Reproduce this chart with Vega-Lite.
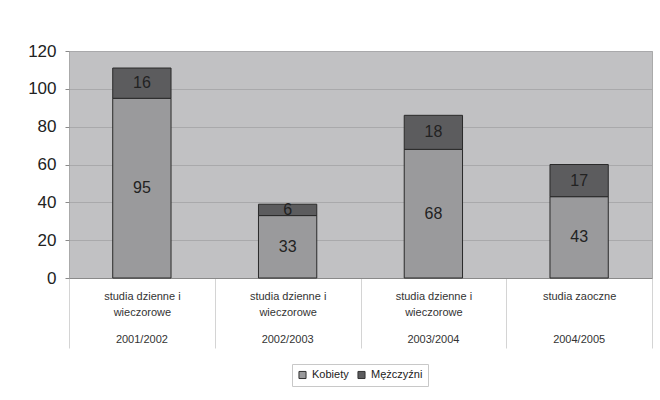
{
  "$schema": "https://vega.github.io/schema/vega-lite/v6.json",
  "width": 583,
  "height": 227,
  "autosize": {"type": "none"},
  "padding": {"left": 69, "top": 51, "right": 8, "bottom": 122},
  "background": "white",
  "config": {
    "font": "Liberation Sans",
    "view": {"fill": "#c1c1c3", "stroke": "#aaaaaa"}
  },
  "data": {
    "values": [
      {"rok": "2001/2002", "kierunek": "studia dzienne i wieczorowe", "plec": "Kobiety", "value": 95},
      {"rok": "2001/2002", "kierunek": "studia dzienne i wieczorowe", "plec": "Mężczyźni", "value": 16},
      {"rok": "2002/2003", "kierunek": "studia dzienne i wieczorowe", "plec": "Kobiety", "value": 33},
      {"rok": "2002/2003", "kierunek": "studia dzienne i wieczorowe", "plec": "Mężczyźni", "value": 6},
      {"rok": "2003/2004", "kierunek": "studia dzienne i wieczorowe", "plec": "Kobiety", "value": 68},
      {"rok": "2003/2004", "kierunek": "studia dzienne i wieczorowe", "plec": "Mężczyźni", "value": 18},
      {"rok": "2004/2005", "kierunek": "studia zaoczne", "plec": "Kobiety", "value": 43},
      {"rok": "2004/2005", "kierunek": "studia zaoczne", "plec": "Mężczyźni", "value": 17}
    ]
  },
  "resolve": {"axis": {"x": "independent"}},
  "layer": [
    {
      "mark": {"type": "bar", "stroke": "#2a2a2a", "strokeWidth": 1, "width": {"band": 0.4}},
      "encoding": {
        "x": {
          "field": "rok",
          "type": "nominal",
          "sort": null,
          "scale": {"paddingInner": 0, "paddingOuter": 0},
          "axis": {
            "title": null,
            "orient": "bottom",
            "labelAngle": 0,
            "labelExpr": "datum.value == '2004/2005' ? 'studia zaoczne' : indexof(['2001/2002', '2002/2003', '2003/2004'], datum.value) >= 0 ? ['studia dzienne i', 'wieczorowe'] : ''",
            "labelFontSize": 11,
            "labelColor": "#333333",
            "labelLineHeight": 16,
            "labelPadding": -58,
            "tickBand": "extent",
            "tickSize": 70,
            "tickColor": "#d4d4d4",
            "domainColor": "#8a8a8a"
          }
        },
        "y": {
          "field": "value",
          "type": "quantitative",
          "stack": "zero",
          "scale": {"domain": [0, 120]},
          "axis": {
            "title": null,
            "values": [0, 20, 40, 60, 80, 100, 120],
            "labelFontSize": 17,
            "labelColor": "#222222",
            "labelPadding": 9,
            "tickSize": 4,
            "tickColor": "#8a8a8a",
            "domain": false,
            "gridColor": "#a9a9ab"
          }
        },
        "color": {
          "field": "plec",
          "type": "nominal",
          "sort": ["Kobiety", "Mężczyźni"],
          "scale": {"domain": ["Kobiety", "Mężczyźni"], "range": ["#9a9a9c", "#5c5c5e"]},
          "legend": {
            "title": null,
            "orient": "none",
            "legendX": 223,
            "legendY": 313,
            "direction": "horizontal",
            "symbolType": "square",
            "symbolSize": 50,
            "symbolStrokeColor": "#333333",
            "symbolStrokeWidth": 1,
            "labelFontSize": 11,
            "labelColor": "#222222",
            "strokeColor": "#c8c8c8",
            "padding": 5,
            "columnPadding": 6
          }
        },
        "order": {"field": "plec", "sort": "ascending"}
      }
    },
    {
      "mark": {"type": "text", "fontSize": 16, "color": "#222222"},
      "encoding": {
        "x": {
          "field": "rok",
          "type": "nominal",
          "sort": null,
          "axis": {
            "title": null,
            "orient": "bottom",
            "labelAngle": 0,
            "labelFontSize": 11,
            "labelColor": "#333333",
            "labelPadding": 55,
            "labelBaseline": "top",
            "ticks": false,
            "domain": false,
            "grid": false
          }
        },
        "y": {
          "field": "value",
          "type": "quantitative",
          "stack": "zero",
          "bandPosition": 0.5,
          "scale": {"domain": [0, 120]},
          "axis": {
            "title": null,
            "values": [0, 20, 40, 60, 80, 100, 120],
            "labelFontSize": 17,
            "labelColor": "#222222",
            "labelPadding": 9,
            "tickSize": 4,
            "tickColor": "#8a8a8a",
            "domain": false,
            "gridColor": "#a9a9ab"
          }
        },
        "detail": {"field": "plec"},
        "order": {"field": "plec", "sort": "ascending"},
        "text": {"field": "value", "type": "quantitative"}
      }
    }
  ]
}
